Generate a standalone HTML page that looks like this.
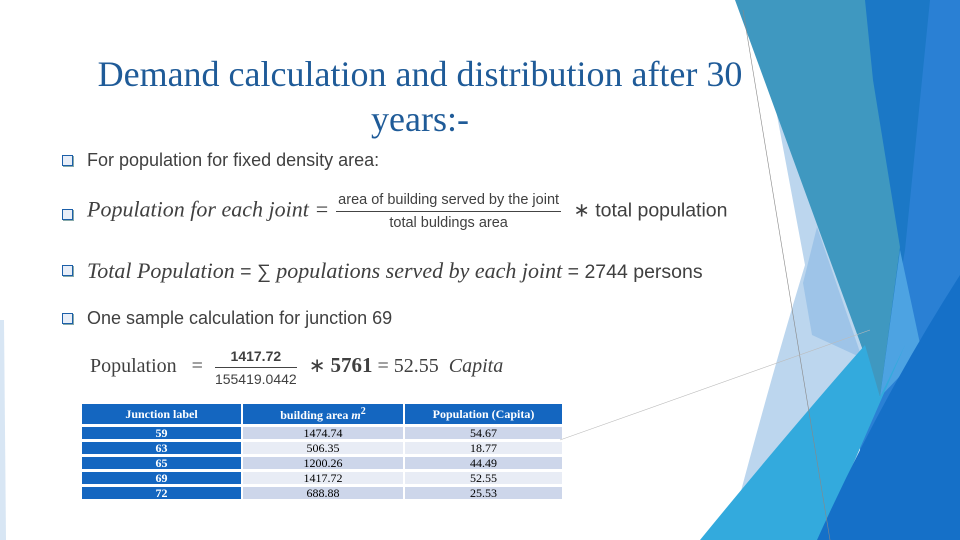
<!DOCTYPE html>
<html><head><meta charset="utf-8"><style>
body{margin:0;width:960px;height:540px;overflow:hidden;background:#fff;position:relative;font-family:"Liberation Sans",sans-serif}
.abs{position:absolute}
.title{left:50px;top:52px;width:740px;text-align:center;font-family:"Liberation Serif",serif;font-size:36px;line-height:45px;color:#1f5b98}
.b{left:62px;font-size:18px;color:#404040;white-space:nowrap}
.b .sq{position:absolute;left:0;top:5px;width:9px;height:9px;border:1.5px solid #1c5fa8;background:#e8eef8;box-shadow:1px 1px 0 #8aa}
.b span.t{position:absolute;left:25px;top:0}
.big{font-size:19.5px}
.it{font-family:"Liberation Serif",serif;font-style:italic;font-size:22px}
.frac{display:inline-block;vertical-align:middle;text-align:center;font-size:14.5px;margin:0 7px}
.frac div:first-child{border-bottom:1px solid #444;padding:0 2px 3px}
.frac div:last-child{padding-top:3px}
table{position:absolute;left:80px;top:401px;border-collapse:separate;border-spacing:2px 3px;font-family:"Liberation Serif",serif;font-size:12px;text-align:center}
td{height:12px;padding:0;line-height:12px}
th{background:#1466c0;color:#fff;font-weight:bold;font-size:12px;height:18px}
td.j{background:#1466c0;color:#fff;font-weight:bold;width:159px}
td.a{width:160px}td.p{width:157px}
tr.o td.a,tr.o td.p{background:#cdd6ea}
tr.e td.a,tr.e td.p{background:#e8ecf5}
</style></head><body>
<svg class="abs" style="left:0;top:0" width="960" height="540">
<polygon points="0,320 4,320 6,540 0,540" fill="#d8e6f4"/>
<rect x="860" y="0" width="100" height="540" fill="#2a80d4"/>
<polygon points="860,0 930,0 905,250 880,397" fill="#1b78c6"/>
<path d="M776,110 L805,265 Q770,380 728,540 L800,540 L880,397 Z" fill="#bcd6ee"/>
<polygon points="817,227 803,283 812,335 862,358" fill="#9ec4e8"/>
<polygon points="735,0 865,0 873,80 900,247 880,397" fill="#3f98c0"/>
<polygon points="900,250 922,353 880,397" fill="#4da3e2"/>
<path d="M700,540 Q790,430 865,345 L880,397 L905,345 L820,540 Z" fill="#33aadd"/>
<path d="M817,540 Q880,400 960,275 L960,540 Z" fill="#1570c8"/>
<line x1="743" y1="10" x2="830" y2="540" stroke="#888" stroke-width="0.6"/>
<line x1="560" y1="440" x2="870" y2="330" stroke="#bbb" stroke-width="0.6"/>
</svg>
<div class="abs title">Demand calculation and distribution after 30<br>years:-</div>
<div class="abs b" style="top:150px"><div class="sq"></div><span class="t">For population for fixed density area:</span></div>
<div class="abs b" style="top:192px"><div class="sq" style="top:17px"></div><span class="t big" style="top:0"><span class="it">Population for each joint =</span><span class="frac"><div>area of building served by the joint</div><div>total buldings area</div></span> ∗ total population</span></div>
<div class="abs b" style="top:258px"><div class="sq" style="top:7px"></div><span class="t big"><span class="it">Total Population</span> = ∑ <span class="it">populations served by each joint</span> = 2744 persons</span></div>
<div class="abs b" style="top:308px"><div class="sq"></div><span class="t">One sample calculation for junction 69</span></div>
<div class="abs" style="left:90px;top:348px;font-family:'Liberation Serif',serif;font-size:20px;color:#404040;white-space:nowrap">Population &nbsp;&nbsp;= <span class="frac" style="font-size:14px;font-family:'Liberation Sans',sans-serif"><div style="font-weight:bold">1417.72</div><div>155419.0442</div></span> ∗ <b style="font-size:21px">5761</b> = 52.55 &nbsp;<i>Capita</i></div>
<table>
<tr><th>Junction label</th><th>building area <i>m</i><sup>2</sup></th><th>Population (Capita)</th></tr>
<tr class="o"><td class="j">59</td><td class="a">1474.74</td><td class="p">54.67</td></tr>
<tr class="e"><td class="j">63</td><td class="a">506.35</td><td class="p">18.77</td></tr>
<tr class="o"><td class="j">65</td><td class="a">1200.26</td><td class="p">44.49</td></tr>
<tr class="e"><td class="j">69</td><td class="a">1417.72</td><td class="p">52.55</td></tr>
<tr class="o"><td class="j">72</td><td class="a">688.88</td><td class="p">25.53</td></tr>
</table>
</body></html>
